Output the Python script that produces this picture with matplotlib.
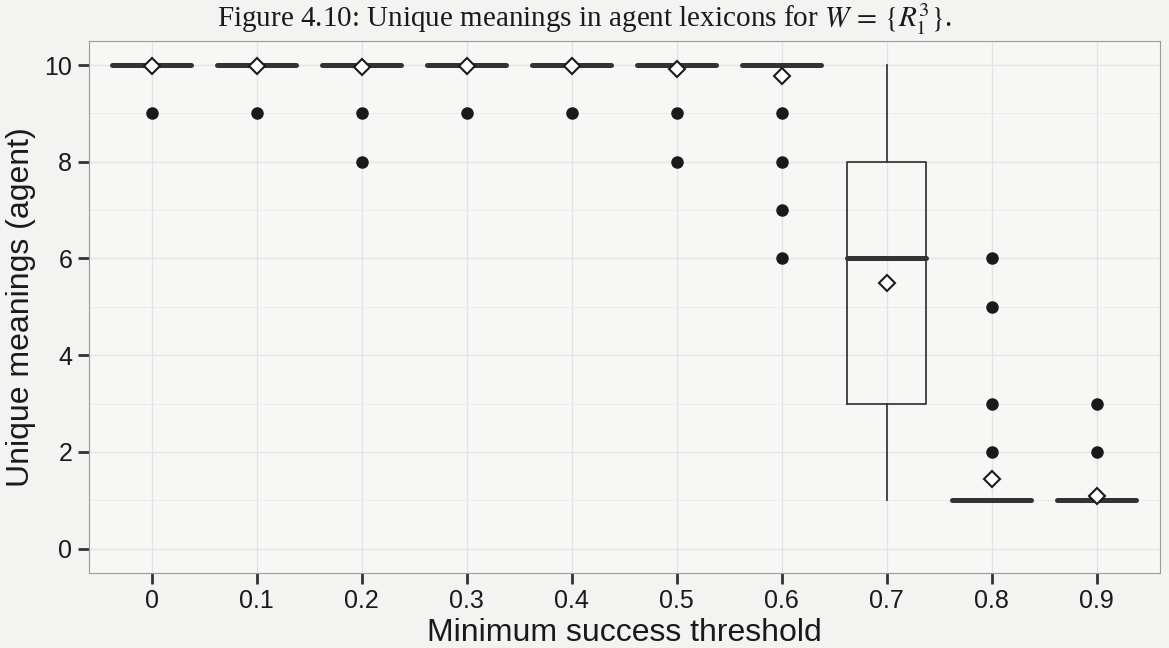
import matplotlib
matplotlib.use("Agg")
import matplotlib.pyplot as plt

# minimum success threshold categories
thresholds = ["0", "0.1", "0.2", "0.3", "0.4", "0.5", "0.6", "0.7", "0.8", "0.9"]

# box summary per threshold
medians = [10, 10, 10, 10, 10, 10, 10, 6, 1, 1]
q1s = [10, 10, 10, 10, 10, 10, 10, 3, 1, 1]
q3s = [10, 10, 10, 10, 10, 10, 10, 8, 1, 1]
whisker_lo = [10, 10, 10, 10, 10, 10, 10, 1, 1, 1]
whisker_hi = [10, 10, 10, 10, 10, 10, 10, 10, 1, 1]
outliers = [
    [9],
    [9],
    [9, 8],
    [9],
    [9],
    [9, 8],
    [9, 8, 7, 6],
    [],
    [6, 5, 3, 2],
    [3, 2],
]
means = [9.97, 9.97, 9.96, 9.98, 9.98, 9.92, 9.77, 5.5, 1.43, 1.08]

DARK = "#333333"

plt.rcParams["font.family"] = ["Liberation Sans", "DejaVu Sans"]
plt.rcParams["mathtext.fontset"] = "stix"

fig = plt.figure(figsize=(11.69, 6.48), dpi=100, facecolor="#f3f3f2")
ax = fig.add_axes([0.076, 0.116, 0.916, 0.821])
ax.set_facecolor("#f7f7f6")

stats = []
for i in range(len(thresholds)):
    stats.append({
        "med": medians[i],
        "q1": q1s[i],
        "q3": q3s[i],
        "whislo": whisker_lo[i],
        "whishi": whisker_hi[i],
        "fliers": outliers[i],
        "mean": means[i],
        "label": thresholds[i],
    })

positions = list(range(1, len(thresholds) + 1))
ax.bxp(
    stats,
    positions=positions,
    widths=0.75,
    showcaps=False,
    showmeans=True,
    patch_artist=False,
    boxprops=dict(color="#3a3a3a", linewidth=1.3),
    whiskerprops=dict(color="#3a3a3a", linewidth=1.3),
    medianprops=dict(color=DARK, linewidth=3.6, solid_capstyle="round"),
    flierprops=dict(marker="o", markerfacecolor="#1a1a1a", markeredgecolor="#1a1a1a",
                    markersize=8),
    meanprops=dict(marker="D", markerfacecolor="white", markeredgecolor="#1a1a1a",
                   markersize=8.5, markeredgewidth=1.5),
    zorder=3,
)

ax.set_xlim(0.4, 10.6)
ax.set_ylim(-0.5, 10.5)
ax.set_yticks([0, 2, 4, 6, 8, 10])
ax.set_yticks([1, 3, 5, 7, 9], minor=True)
ax.set_xticks(positions)
ax.set_xticklabels(thresholds)

ax.grid(True, which="major", color="#e4e4e4", linewidth=1.0, zorder=0)
ax.grid(True, which="minor", axis="y", color="#ececec", linewidth=0.7, zorder=0)
ax.set_axisbelow(True)

for side in ax.spines.values():
    side.set_color("#9a9a9a")
    side.set_linewidth(0.8)

ax.tick_params(axis="both", which="major", length=8, width=2, color=DARK,
               labelsize=18, labelcolor="#1a1a1a", pad=4)
ax.tick_params(axis="both", which="minor", length=0)

ax.set_xlabel("Minimum success threshold", fontsize=23, color="#1a1a1a", labelpad=3)
ax.set_ylabel("Unique meanings (agent)", fontsize=23, color="#1a1a1a", labelpad=6)

fig.text(0.5, 0.97, r"Figure 4.10: Unique meanings in agent lexicons for $W\,=\,\{R_1^3\}$.",
         ha="center", va="center", fontsize=21,
         family=["Liberation Serif", "DejaVu Serif"], color="#1a1a1a")

fig.savefig("out.png", dpi=100, facecolor=fig.get_facecolor())
